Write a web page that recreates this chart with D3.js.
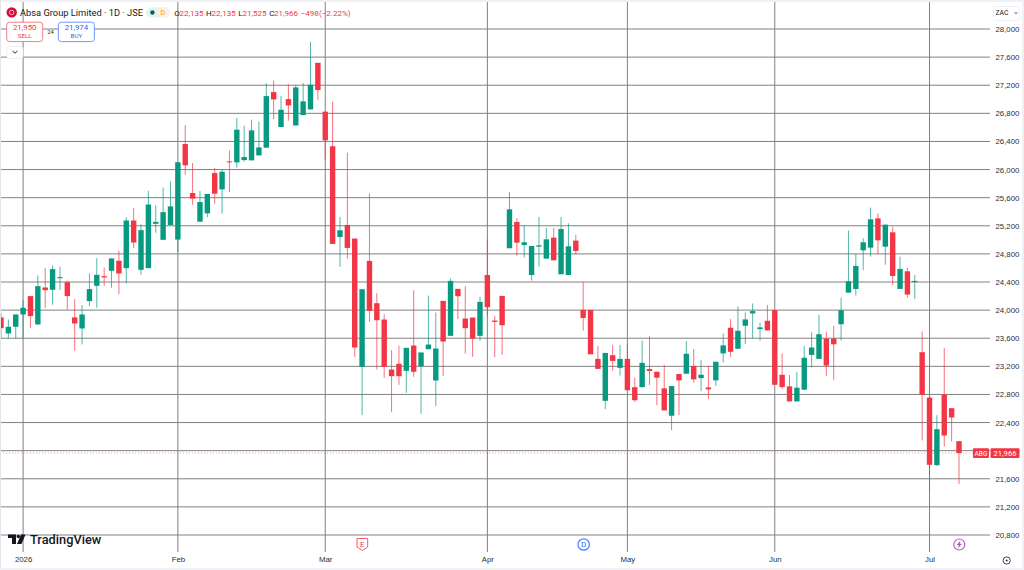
<!DOCTYPE html>
<html>
<head>
<meta charset="utf-8">
<script src="https://cdn.jsdelivr.net/npm/d3@7"></script>
<style>
  html, body { margin: 0; padding: 0; background: #fff; overflow: hidden; }
  svg { display: block; font-family: "Roboto", "Liberation Sans", sans-serif; }
  .axis path, .axis line { display: none; }
  .axis text { fill: #2a2e39; font-size: 7.8px; }
</style>
</head>
<body>
<div id="chart"></div>
<script>
// ----------------------
// Data (ZAC, daily candles)
// ----------------------
const openPrices = [
  23896,23668,23763,23938,24199,23796,24322,24289,24455,24398,
  23896,23739,24128,24346,24483,24559,24702,24597,25275,24574,
  24597,25228,25000,25211,25004,26363,25666,25258,25377,25950,
  25718,26116,26102,26135,26131,26202,26311,27102,26605,27003,
  26628,26775,26856,27519,26824,26331,25041,25212,25018,23193,
  24700,24098,23866,23155,23236,23136,23496,23202,23444,22999,
  24131,23634,24302,23880,23894,23634,24500,23851,24202,24880,
  25254,24927,24500,24903,24733,25031,24510,24500,24989,24003,
  24003,23306,22709,23358,23178,23306,22903,22903,23161,23123,
  22886,22497,23090,23095,23204,23033,22900,23000,23384,23749,
  23450,23777,23953,23730,23848,24000,23080,22915,22701,22867,
  23363,23306,23595,23595,23799,24249,24301,24851,24889,25306,
  24903,25107,24301,24552,24405,23401,22756,21794,22799,22604,
  22135
];
const highPrices = [
  23962,23867,23938,24142,24199,24493,24597,24635,24616,24417,
  24156,24071,24521,24739,24607,24735,24844,25318,25450,25223,
  25697,25493,25744,25832,26104,26633,26093,25695,25652,26022,
  25998,26273,26733,26624,26709,26680,27230,27268,27050,27216,
  27207,27230,27818,27519,26824,26966,25326,26241,25018,24297,
  25658,24240,23942,23430,23496,23463,24283,23397,24207,23965,
  24131,24449,24302,24340,23894,24188,25007,23917,24202,25681,
  25306,25202,24913,25325,25169,25169,25325,25235,25069,24401,
  24003,23491,23391,23505,23505,23505,23040,23567,23630,23123,
  23223,22919,23090,23559,23445,23289,23204,23265,23668,23872,
  24052,23967,24095,23820,24071,24000,23384,23076,23123,23488,
  23685,23932,23690,23775,24178,25131,24799,25022,25458,25377,
  25216,25183,24761,24600,24500,23695,22756,22505,23458,22604,
  22135
];
const lowPrices = [
  23588,23597,23597,23597,23749,23796,24028,24076,24284,24009,
  23422,23512,24057,24033,24346,24318,24228,24379,24882,24502,
  24597,25100,25000,25211,24829,25927,25500,25258,25320,25514,
  25372,25680,26026,26112,26131,26202,26311,26718,26605,26695,
  26628,26775,26856,26993,26146,24942,24615,24729,23335,22506,
  23833,23155,23032,22548,22937,22823,23051,22525,23444,22634,
  23065,23634,23871,23382,23335,23563,23908,23330,23363,24880,
  24775,24747,24420,24619,24733,24709,24510,24500,24794,23709,
  23372,23164,22590,23135,23069,22860,22694,22903,22934,22649,
  22573,22294,22507,23095,22967,22848,22739,22919,23256,23336,
  23450,23517,23597,23564,23711,22938,22881,22701,22701,22867,
  23183,23306,23064,23007,23567,24249,24206,24567,24761,24794,
  24647,24358,24301,24178,24159,22145,21429,21784,22059,22130,
  21525
];
const closePrices = [
  23744,23763,23938,24033,23915,24341,24284,24583,24469,24199,
  23810,23938,24299,24502,24465,24735,24521,25275,24962,25138,
  25503,25256,25394,25476,26104,26060,25586,25538,25652,25657,
  25969,26102,26567,26178,26557,26315,27045,26998,26851,26913,
  27169,26970,27207,27131,26416,24942,25136,24885,23468,24297,
  23989,23856,23193,23060,23060,23463,23122,23397,23510,23454,
  23553,24416,24198,23743,23596,24117,24041,23832,23785,25434,
  24960,24965,24913,24922,25007,24709,25154,24908,24842,23889,
  23372,23164,23391,23277,23306,22860,22718,23249,23133,23038,
  22573,22919,23000,23379,23014,23080,22872,23265,23498,23407,
  23706,23867,23986,23754,23711,22938,22905,22701,22896,23322,
  23467,23657,23211,23514,23998,24410,24628,24965,25292,24993,
  25216,24486,24586,24221,24415,22794,21799,22306,22216,22472,
  21966
];
const priceTicks = [20800,21200,21600,22000,22400,22800,23200,23600,24000,24400,24800,25200,25600,26000,26400,26800,27200,27600,28000];
const monthLabels = ["2026","Feb","Mar","Apr","May","Jun","Jul"];
const monthBars = [3,24,44,66,85,105,126];
const ohlcLabels = ["O","H","L","C"];
const ohlcValues = ["22,135","22,135","21,525","21,966"];
const lastPrice = 21966;

// ----------------------
// Layout
// ----------------------
const width = 1024, height = 570;
const up = "#089981", down = "#f23645";
const gridColor = "#808080";

const svg = d3.select("#chart").append("svg")
    .attr("width", width)
    .attr("height", height);

const x = d3.scaleLinear().domain([0, openPrices.length - 1]).range([1, 959]);
const y = d3.scaleLinear().domain([20800, 28000]).range([535, 29]);
const bodyWidth = 5.4;

// Grid
svg.append("g").selectAll("line")
    .data(priceTicks)
    .enter().append("line")
    .attr("x1", 0).attr("x2", 990)
    .attr("y1", d => y(d)).attr("y2", d => y(d))
    .attr("stroke", gridColor);

svg.append("g").selectAll("line")
    .data(monthBars)
    .enter().append("line")
    .attr("x1", d => x(d)).attr("x2", d => x(d))
    .attr("y1", 2).attr("y2", 552)
    .attr("stroke", gridColor);

// Candles
const candles = svg.append("g").selectAll("g")
    .data(d3.range(openPrices.length))
    .enter().append("g")
    .attr("fill", i => closePrices[i] >= openPrices[i] ? up : down)
    .attr("stroke", i => closePrices[i] >= openPrices[i] ? up : down);

candles.append("line")
    .attr("x1", i => x(i)).attr("x2", i => x(i))
    .attr("y1", i => y(highPrices[i])).attr("y2", i => y(lowPrices[i]))
    .attr("stroke-width", 1)
    .attr("stroke-opacity", 0.7);

candles.append("rect")
    .attr("x", i => x(i) - bodyWidth / 2)
    .attr("width", bodyWidth)
    .attr("y", i => y(Math.max(openPrices[i], closePrices[i])))
    .attr("height", i => Math.max(1, Math.abs(y(openPrices[i]) - y(closePrices[i]))))
    .attr("stroke", "none");

// Axes
svg.append("g")
    .attr("class", "axis")
    .attr("transform", "translate(995.5,0)")
    .call(d3.axisRight(y).tickValues(priceTicks).tickSize(0).tickPadding(0).tickFormat(d3.format(",")));

svg.append("g")
    .attr("class", "axis")
    .attr("transform", "translate(0,555)")
    .call(d3.axisBottom(x).tickValues(monthBars).tickSize(0).tickPadding(1)
        .tickFormat((d, i) => monthLabels[i]));

// Last price line and labels
svg.append("line")
    .attr("x1", 0).attr("x2", 990)
    .attr("y1", y(lastPrice)).attr("y2", y(lastPrice))
    .attr("stroke", down).attr("stroke-opacity", 0.5)
    .attr("stroke-dasharray", "1 2");

svg.append("rect").attr("x", 973).attr("y", y(lastPrice) - 4.7).attr("width", 16).attr("height", 9.6).attr("rx", 1).attr("fill", down);
svg.append("rect").attr("x", 990.5).attr("y", y(lastPrice) - 4.7).attr("width", 29).attr("height", 9.6).attr("rx", 1).attr("fill", down);
svg.append("text").attr("x", 981).attr("y", y(lastPrice) + 2.5).attr("text-anchor", "middle")
    .attr("font-size", 6.6).attr("fill", "#fff").text("ABG");
svg.append("text").attr("x", 1005).attr("y", y(lastPrice) + 2.7).attr("text-anchor", "middle")
    .attr("font-size", 7.6).attr("fill", "#fff").text(d3.format(",")(lastPrice));

// Frame
svg.append("rect").attr("width", width).attr("height", 2).attr("fill", "#f0f1f4");
svg.append("rect").attr("width", 1).attr("height", height).attr("fill", "#e4e5ea");
svg.append("rect").attr("y", height - 2).attr("width", width).attr("height", 2).attr("fill", "#f0f1f4");
svg.append("rect").attr("x", width - 2).attr("width", 2).attr("height", height).attr("fill", "#f0f1f4");

// Header
svg.append("circle").attr("cx", 11.7).attr("cy", 12.4).attr("r", 5.2).attr("fill", "#dc0a3c");
svg.append("circle").attr("cx", 11.7).attr("cy", 12.4).attr("r", 2.2).attr("fill", "none").attr("stroke", "#fff").attr("stroke-width", 0.7);
svg.append("text").attr("x", 20).attr("y", 15.8).attr("font-size", 9.3).attr("fill", "#131722")
    .text("Absa Group Limited · 1D · JSE");

svg.append("rect").attr("x", 146).attr("y", 7.5).attr("width", 23.5).attr("height", 10).attr("rx", 5).attr("fill", "#e3f3ef");
svg.append("rect").attr("x", 157).attr("y", 7.5).attr("width", 12.5).attr("height", 10).attr("rx", 5).attr("fill", "#fdf0de");
svg.append("circle").attr("cx", 152.4).attr("cy", 12.5).attr("r", 2.2).attr("fill", "#0b5f54");
svg.append("text").attr("x", 162.8).attr("y", 15.2).attr("text-anchor", "middle").attr("font-size", 7.4).attr("fill", "#f59c1a").text("D");

const ohlcLabelX = [174.3, 206, 238.3, 269.3];
const ohlcValueX = [179.5, 211.6, 242.4, 274];
ohlcLabels.forEach((label, i) => {
    svg.append("text").attr("x", ohlcLabelX[i]).attr("y", 15.5).attr("font-size", 8).attr("fill", "#131722").text(label);
    svg.append("text").attr("x", ohlcValueX[i]).attr("y", 15.5).attr("font-size", 8).attr("fill", down).text(ohlcValues[i]);
});
svg.append("text").attr("x", 300.7).attr("y", 15.5).attr("font-size", 8).attr("fill", down).text("−498");
svg.append("text").attr("x", 319).attr("y", 15.5).attr("font-size", 8).attr("fill", down).text("(−2.22%)");

// Sell / buy boxes
svg.append("rect").attr("x", 6.7).attr("y", 22.2).attr("width", 36).attr("height", 19.4).attr("rx", 3)
    .attr("fill", "#fff").attr("stroke", "#f77c85");
svg.append("text").attr("x", 24.7).attr("y", 30).attr("text-anchor", "middle").attr("font-size", 7.8).attr("fill", down).text("21,950");
svg.append("text").attr("x", 24.7).attr("y", 38).attr("text-anchor", "middle").attr("font-size", 6.2).attr("fill", down).text("SELL");
svg.append("text").attr("x", 50.4).attr("y", 33.6).attr("text-anchor", "middle").attr("font-size", 5.8).attr("fill", "#2a2e39").text("24");
svg.append("rect").attr("x", 58.4).attr("y", 22.2).attr("width", 36).attr("height", 19.4).attr("rx", 3)
    .attr("fill", "#fff").attr("stroke", "#6f97ff");
svg.append("text").attr("x", 76.4).attr("y", 30).attr("text-anchor", "middle").attr("font-size", 7.8).attr("fill", "#2962ff").text("21,974");
svg.append("text").attr("x", 76.4).attr("y", 38).attr("text-anchor", "middle").attr("font-size", 6.2).attr("fill", "#2962ff").text("BUY");

// Collapse button
svg.append("rect").attr("x", 7).attr("y", 46.5).attr("width", 16).attr("height", 12).attr("rx", 2)
    .attr("fill", "#fff").attr("stroke", "#eeeff2");
svg.append("path").attr("d", "M12.5 51 L15 53.2 L17.5 51").attr("fill", "none").attr("stroke", "#131722").attr("stroke-width", 0.9);

// Currency button
svg.append("rect").attr("x", 993.5).attr("y", 6.5).attr("width", 26).attr("height", 14).attr("rx", 2)
    .attr("fill", "#fff").attr("stroke", "#f0f1f4");
svg.append("text").attr("x", 995.4).attr("y", 15.2).attr("font-size", 6.8).attr("fill", "#131722").text("ZAC");
svg.append("path").attr("d", "M1014.5 12.4 L1016 13.6 L1017.5 12.4").attr("fill", "none").attr("stroke", "#131722").attr("stroke-width", 0.7);

// TradingView mark
svg.append("path").attr("fill", "#131722")
    .attr("d", "M8 534.5 H16 V544 H12 V538 H8 Z M21 534.5 H25.5 L21.5 544 H17 Z");
svg.append("circle").attr("cx", 18.3).attr("cy", 536.5).attr("r", 1.7).attr("fill", "#131722");
svg.append("text").attr("x", 30).attr("y", 544).attr("font-size", 12.8).attr("font-weight", 500).attr("fill", "#131722").text("TradingView");

// Event markers
svg.append("path").attr("d", "M357 538.5 H367.7 V547 L362.3 550.5 L357 547 Z")
    .attr("fill", "#fff").attr("stroke", down).attr("stroke-opacity", 0.8);
svg.append("text").attr("x", 362.3).attr("y", 547.2).attr("text-anchor", "middle").attr("font-size", 8).attr("fill", down).text("E");
svg.append("circle").attr("cx", 583.7).attr("cy", 544.5).attr("r", 5.7).attr("fill", "#fff").attr("stroke", "#2962ff").attr("stroke-width", 1.3).attr("stroke-opacity", 0.8);
svg.append("text").attr("x", 583.7).attr("y", 547.4).attr("text-anchor", "middle").attr("font-size", 8).attr("fill", "#2962ff").text("D");
svg.append("circle").attr("cx", 959.3).attr("cy", 544.5).attr("r", 5.5).attr("fill", "#fff").attr("stroke", "#ab47bc").attr("stroke-width", 1.2).attr("stroke-opacity", 0.85);
svg.append("path").attr("d", "M960.5 540.5 L956.8 545.3 H959 L958 548.5 L961.8 543.7 H959.6 Z").attr("fill", "#ab47bc");

// Settings icon
svg.append("circle").attr("cx", 1006.7).attr("cy", 560.5).attr("r", 3.6).attr("fill", "none").attr("stroke", "#2a2e39").attr("stroke-width", 0.9);
svg.append("circle").attr("cx", 1006.7).attr("cy", 560.5).attr("r", 1).attr("fill", "#2a2e39");
</script>
</body>
</html>
